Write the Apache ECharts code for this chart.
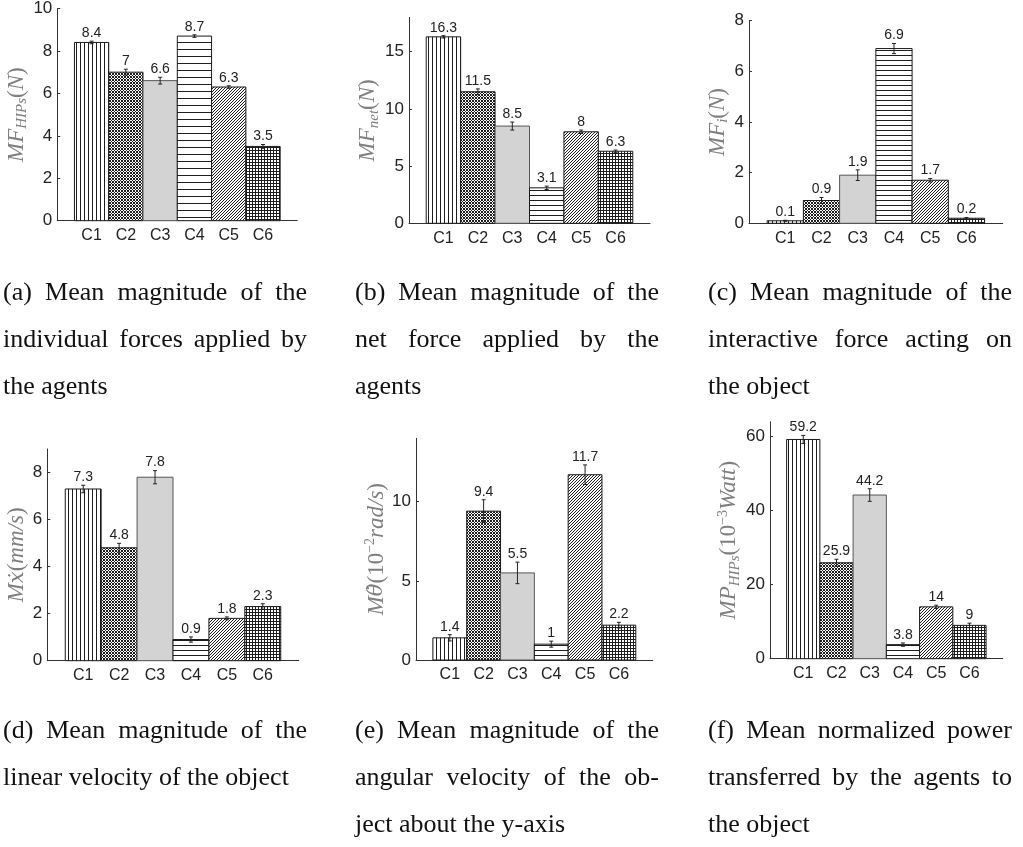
<!DOCTYPE html>
<html><head><meta charset="utf-8">
<script src="https://cdn.jsdelivr.net/npm/echarts/dist/echarts.min.js"></script>
<style>html,body{margin:0;padding:0;background:#fff}#c{width:1023px;height:847px}</style>
</head><body><div id="c"></div><script>
// ---------- data ----------
const categories = ['C1','C2','C3','C4','C5','C6'];

const meanForceHIPs    = [8.4, 7, 6.6, 8.7, 6.3, 3.5];
const meanForceHIPsErr = [0.06, 0.14, 0.16, 0.06, 0.06, 0.09];

const meanNetForce    = [16.3, 11.5, 8.5, 3.1, 8, 6.3];
const meanNetForceErr = [0.1, 0.25, 0.35, 0.15, 0.15, 0.1];

const meanInterForce    = [0.1, 0.9, 1.9, 6.9, 1.7, 0.2];
const meanInterForceErr = [0.02, 0.12, 0.21, 0.2, 0.07, 0.03];

const meanLinVel    = [7.3, 4.8, 7.8, 0.9, 1.8, 2.3];
const meanLinVelErr = [0.16, 0.19, 0.28, 0.11, 0.06, 0.12];

const meanAngVel    = [1.4, 9.4, 5.5, 1, 11.7, 2.2];
const meanAngVelErr = [0.2, 0.72, 0.68, 0.19, 0.62, 0.18];

const meanPower    = [59.2, 25.9, 44.2, 3.8, 14, 9];
const meanPowerErr = [1.1, 0.95, 1.7, 0.45, 0.45, 0.6];

const yTicksA = [0, 2, 4, 6, 8, 10];
const yTicksB = [0, 5, 10, 15];
const yTicksC = [0, 2, 4, 6, 8];
const yTicksD = [0, 2, 4, 6, 8];
const yTicksE = [0, 5, 10];
const yTicksF = [0, 20, 40, 60];

const captionA = ['(a) Mean magnitude of the', 'individual forces applied by', 'the agents'];
const captionB = ['(b) Mean magnitude of the', 'net force applied by the', 'agents'];
const captionC = ['(c) Mean magnitude of the', 'interactive force acting on', 'the object'];
const captionD = ['(d) Mean magnitude of the', 'linear velocity of the object'];
const captionE = ['(e) Mean magnitude of the', 'angular velocity of the ob-', 'ject about the y-axis'];
const captionF = ['(f) Mean normalized power', 'transferred by the agents to', 'the object'];

// ---------- layout / style ----------
const SANS = '"Liberation Sans", Arial, Helvetica, sans-serif';
const SERIF = '"Liberation Serif", "Times New Roman", serif';

const panels = [
  {vals: meanForceHIPs, errs: meanForceHIPsErr, ticks: yTicksA, max: 10, box: [57.3, 6, 240, 214.7], gap: 18, hatch: 7,
   name: '{i|MF}{sub|HIPs}{r|(}{i|N}{r|)}', cap: captionA, capX: 3, capY: 302},
  {vals: meanNetForce, errs: meanNetForceErr, ticks: yTicksB, max: 18, box: [409, 17.4, 241, 205.9], gap: 21, hatch: 5,
   name: '{i|MF}{sub|net}{r|(}{i|N}{r|)}', cap: captionB, capX: 355, capY: 302},
  {vals: meanInterForce, errs: meanInterForceErr, ticks: yTicksC, max: 8, box: [749, 20.7, 253.7, 202.6], gap: 9, hatch: 5,
   name: '{i|MF}{sub|i}{r|(}{i|N}{r|)}', cap: captionC, capX: 708, capY: 302},
  {vals: meanLinVel, errs: meanLinVelErr, ticks: yTicksD, max: 9, box: [47.3, 449, 251.4, 211.7], gap: 7, hatch: 5,
   name: '{i|M}{d|ẋ}{r|(}{i|mm/s}{r|)}', cap: captionD, capX: 3, capY: 740},
  {vals: meanAngVel, errs: meanAngVelErr, ticks: yTicksE, max: 14, box: [416, 438.3, 236.7, 221.7], gap: 25, hatch: 5,
   name: '{i|M}{d|θ̇}{r|(10}{sup|−2}{i|rad/s}{r|)}', cap: captionE, capX: 355, capY: 740},
  {vals: meanPower, errs: meanPowerErr, ticks: yTicksF, max: 64, box: [770, 421.7, 232.7, 237], gap: 27, hatch: 5,
   name: '{i|MP}{sub|HIPs}{r|(10}{sup|−3}{i|Watt}{r|)}', cap: captionF, capX: 708, capY: 740}
];

function tile(w, h, dark) {
  const c = document.createElement('canvas'); c.width = w; c.height = h;
  const g = c.getContext('2d');
  g.fillStyle = '#ffffff'; g.fillRect(0, 0, w, h);
  g.fillStyle = '#1e1e1e';
  for (let y = 0; y < h; y++) for (let x = 0; x < w; x++) if (dark(x, y)) g.fillRect(x, y, 1, 1);
  return {image: c, repeat: 'repeat'};
}
function makeFills(hatch) {
  return [
    tile(4, 4, (x) => x % 4 === 0),
    tile(3, 3, (x, y) => (x + y) % 3 === 0 || (x - y + 3) % 3 === 0),
    '#d3d3d3',
    tile(4, hatch, (x, y) => y % hatch === 0),
    tile(3, 3, (x, y) => (x + y) % 3 === 0),
    tile(3, 3, (x, y) => x % 3 === 0 || y % 3 === 0)
  ];
}

const GREY = '#7f7f7f';
const rich = {
  i:   {fontFamily: SERIF, fontStyle: 'italic', fontSize: 23, lineHeight: 26, color: GREY},
  d:   {fontFamily: '"DejaVu Serif", serif', fontStyle: 'italic', fontSize: 21, lineHeight: 26, color: GREY},
  r:   {fontFamily: SERIF, fontSize: 23, lineHeight: 26, color: GREY},
  sub: {fontFamily: SERIF, fontStyle: 'italic', fontSize: 15, color: GREY, verticalAlign: 'bottom'},
  sup: {fontFamily: SERIF, fontSize: 14, color: GREY, verticalAlign: 'top'}
};

const positions = categories.map((c, i) => i + 1);

const option = {
  animation: false,
  grid: [], xAxis: [], yAxis: [], series: [], graphic: []
};

panels.forEach((p, i) => {
  option.grid.push({left: p.box[0], top: p.box[1], width: p.box[2], height: p.box[3]});
  option.xAxis.push({
    gridIndex: i, type: 'value', min: 0, max: categories.length + 1,
    axisLine: {show: true, onZero: false, lineStyle: {color: '#333', width: 1}},
    axisTick: {show: true, inside: true, length: 3, customValues: positions, lineStyle: {color: '#333'}},
    axisLabel: {customValues: positions, formatter: (v) => categories[v - 1], fontSize: 16, color: '#222', margin: 7, fontFamily: SANS},
    splitLine: {show: false}
  });
  option.yAxis.push({
    gridIndex: i, type: 'value', min: 0, max: p.max,
    axisLine: {show: true, onZero: false, lineStyle: {color: '#333', width: 1}},
    axisTick: {show: true, inside: true, length: 3, customValues: p.ticks, lineStyle: {color: '#333'}},
    axisLabel: {customValues: p.ticks, fontSize: 17, color: '#222', margin: 5, fontFamily: SANS},
    splitLine: {show: false},
    name: p.name, nameLocation: 'middle', nameRotate: 90, nameGap: p.gap,
    nameTextStyle: {rich: rich}
  });
  const fills = makeFills(p.hatch);
  option.series.push({
    type: 'custom', xAxisIndex: i, yAxisIndex: i, silent: true,
    data: categories.map((c, k) => [k + 1, p.vals[k], p.errs[k]]),
    renderItem: (params, api) => {
      const k = params.dataIndex;
      const x = api.value(0), v = api.value(1), e = api.value(2);
      const tl = api.coord([x - 0.5, v]), br = api.coord([x + 0.5, 0]);
      const et = api.coord([x, v + e]), eb = api.coord([x, v - e]);
      return {type: 'group', children: [
        {type: 'rect', shape: {x: tl[0], y: tl[1], width: br[0] - tl[0], height: br[1] - tl[1]},
         style: {fill: fills[k], stroke: k === 2 ? '#555' : '#1a1a1a', lineWidth: 1}},
        {type: 'line', shape: {x1: et[0], y1: et[1], x2: eb[0], y2: eb[1]}, style: {stroke: '#222', lineWidth: 1}},
        {type: 'line', shape: {x1: et[0] - 2, y1: et[1], x2: et[0] + 2, y2: et[1]}, style: {stroke: '#222', lineWidth: 1}},
        {type: 'line', shape: {x1: eb[0] - 2, y1: eb[1], x2: eb[0] + 2, y2: eb[1]}, style: {stroke: '#222', lineWidth: 1}},
        {type: 'text', x: et[0], y: et[1] - 1,
         style: {text: String(v), fontFamily: SANS, fontSize: 14, fill: '#222', align: 'center', verticalAlign: 'bottom',
                 textAlign: 'center', textVerticalAlign: 'bottom'}}
      ]};
    }
  });
});

// captions (justified like the source typesetting)
const CAP_SIZE = 26;
const CAP_FONT = CAP_SIZE + 'px ' + SERIF;
const CAP_WIDTH = 304, CAP_LEAD = 47;
const mctx = document.createElement('canvas').getContext('2d');
mctx.font = CAP_FONT;
panels.forEach((p) => {
  p.cap.forEach((line, li) => {
    const justify = li < p.cap.length - 1;
    const words = line.split(' ');
    const ws = words.map((w) => mctx.measureText(w).width);
    const total = ws.reduce((a, b) => a + b, 0);
    const gap = (justify && words.length > 1) ? (CAP_WIDTH - total) / (words.length - 1) : mctx.measureText(' ').width;
    let x = p.capX;
    const baseline = p.capY + li * CAP_LEAD;
    words.forEach((w, wi) => {
      option.graphic.push({type: 'text', x: x, y: baseline - 9, silent: true,
        style: {text: w, font: CAP_FONT, fill: '#111', align: 'left', verticalAlign: 'middle',
                textAlign: 'left', textVerticalAlign: 'middle'}});
      x += ws[wi] + gap;
    });
  });
});

const chart = echarts.init(document.getElementById('c'), null, {renderer: 'canvas'});
chart.setOption(option);
</script></body></html>
